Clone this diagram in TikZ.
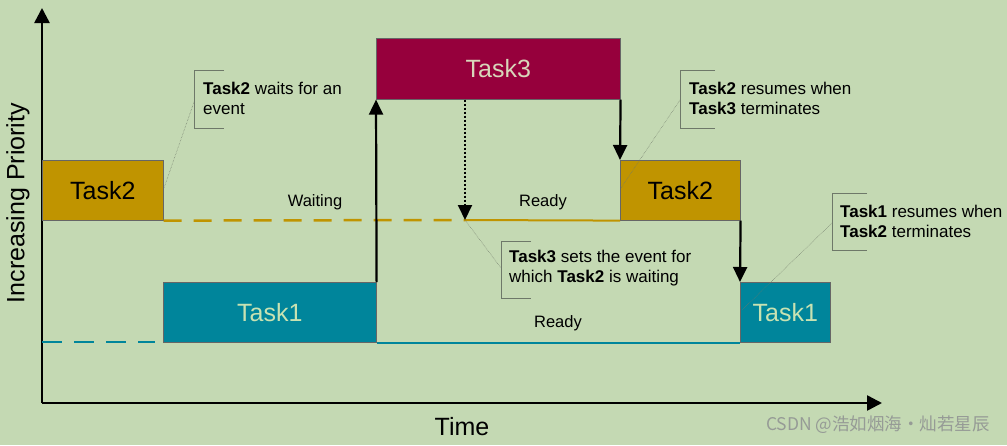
\documentclass[tikz,border=0pt]{standalone}
\usepackage{fontspec}
\setmainfont{Liberation Sans}
\newfontfamily\cjkfont{Noto Sans CJK SC}
\usetikzlibrary{arrows.meta}
\definecolor{bg}{RGB}{196,217,179}
\definecolor{tgold}{RGB}{192,148,0}
\definecolor{tteal}{RGB}{0,133,155}
\definecolor{tred}{RGB}{150,0,60}
\definecolor{txtred}{RGB}{216,214,186}
\definecolor{txtteal}{RGB}{200,226,178}
\definecolor{callgray}{RGB}{110,120,105}
\definecolor{wmgray}{RGB}{150,155,150}
\tikzset{
  taskbox/.style={draw=black!60, line width=0.6pt, anchor=north west, inner sep=0pt, font=\fontsize{25}{30}\selectfont},
  bigarrow/.style={line width=2.2pt, -{Triangle[width=14pt,length=15pt]}},
  callbracket/.style={draw=callgray, line width=0.7pt},
  calltext/.style={anchor=west, align=left, inner sep=0pt, font=\fontsize{17}{20}\selectfont},
  leader/.style={draw=callgray, line width=0.5pt, densely dotted},
  statelabel/.style={font=\fontsize{16.5}{20}\selectfont, inner sep=0pt},
}
\begin{document}
\begin{tikzpicture}[x=1pt,y=-1pt]
\useasboundingbox (0,0) rectangle (1007,445);
\fill[bg] (0,0) rectangle (1007,445);

% axes
\coordinate (o) at (42,403);
\coordinate (ytop) at (42,8);
\coordinate (xend) at (882,403);
\draw[line width=2.5pt, -{Triangle[width=15pt,length=15pt]}] (o) -- (ytop);
\draw[line width=2.5pt, -{Triangle[width=15pt,length=15pt]}] (o) -- (xend);
\node[rotate=90, font=\fontsize{25}{30}\selectfont] (ylab) at (18,203) {Increasing Priority};
\node[font=\fontsize{25}{30}\selectfont] (xlab) at (462,427) {Time};

% task boxes
\node[taskbox, fill=tgold, minimum width=121pt, minimum height=60pt] (t2a) at (42,160) {Task2};
\node[taskbox, fill=tteal, text=txtteal, minimum width=213pt, minimum height=60pt] (t1a) at (163,282) {Task1};
\node[taskbox, fill=tred, text=txtred, minimum width=244pt, minimum height=61pt] (t3) at (376,38) {Task3};
\node[taskbox, fill=tgold, minimum width=120pt, minimum height=60pt] (t2b) at (620,160) {Task2};
\node[taskbox, fill=tteal, text=txtteal, minimum width=90pt, minimum height=60pt] (t1b) at (740,282) {Task1};

% state lines
\coordinate (ev) at (465,220);
\coordinate (t1dashs) at (42,342);
\coordinate (t1dashe) at (155,342);
\draw[tgold, line width=2.5pt, dash pattern=on 18pt off 12pt] (t2a.south east) -- (ev);
\draw[tgold, line width=2pt] (ev) -- (t2b.south west);
\draw[tteal, line width=2.5pt, dash pattern=on 20pt off 12pt] (t1dashs) -- (t1dashe);
\draw[tteal, line width=2pt] (t1a.south east) -- (t1b.south west);

% transitions
\draw[bigarrow] (t1a.north east) -- (t3.south west);
\draw[bigarrow] (t3.south east) -- (t2b.north west);
\draw[bigarrow] (t2b.south east) -- (t1b.north west);
\draw[line width=2pt, dotted, -{Triangle[width=14pt,length=15pt]}] (ev |- t3.south) -- (ev);

% state labels
\node[statelabel] (wait) at (315,202) {Waiting};
\node[statelabel] (rdy2) at (543,202) {Ready};
\node[statelabel] (rdy1) at (558,323) {Ready};

% callout 1
\coordinate (c1) at (194,70);
\draw[callbracket] (224,70) -- (c1) -- (194,128) -- (224,128);
\node[calltext] (c1t) at (203,98) {\textbf{Task2} waits for an\\event};
\coordinate (c1m) at (194,102);
\coordinate (c1e) at (164,188);
\draw[leader] (c1m) -- (c1e);

% callout 2
\draw[callbracket] (715,70) -- (680,70) -- (680,128) -- (715,128);
\node[calltext] (c2t) at (689,98) {\textbf{Task2} resumes when\\\textbf{Task3} terminates};
\coordinate (c2m) at (680,100);
\coordinate (c2e) at (621,188);
\draw[leader] (c2m) -- (c2e);

% callout 3
\draw[callbracket] (531,241) -- (501,241) -- (501,298) -- (531,298);
\node[calltext] (c3t) at (509,268) {\textbf{Task3} sets the event for\\which \textbf{Task2} is waiting};
\coordinate (c3m) at (501,268);
\draw[leader] (ev) -- (c3m);

% callout 4
\draw[callbracket] (867,193) -- (832,193) -- (832,250) -- (867,250);
\node[calltext] (c4t) at (840,221) {\textbf{Task1} resumes when\\\textbf{Task2} terminates};
\coordinate (c4m) at (832,223);
\coordinate (c4e) at (742,310);
\draw[leader] (c4m) -- (c4e);

% watermark
\node[anchor=east, text=wmgray, font=\cjkfont\fontsize{17.5}{20}\selectfont, inner sep=0pt] (wm) at (990,425) {CSDN @浩如烟海·灿若星辰};
\end{tikzpicture}
\end{document}
